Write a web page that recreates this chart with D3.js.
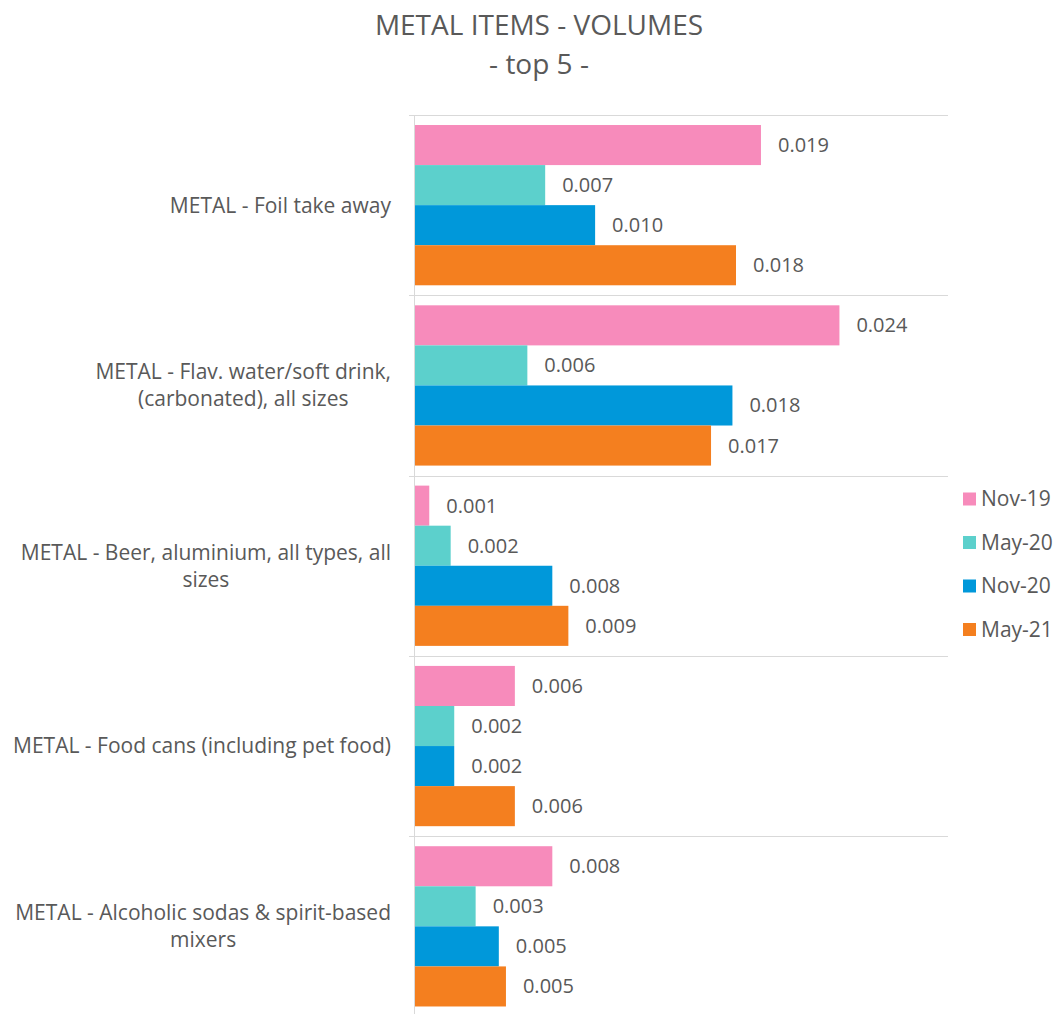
<!DOCTYPE html>
<html>
<head>
<meta charset="utf-8">
<script src="https://cdn.jsdelivr.net/npm/d3@7"></script>
<style>
  html, body { margin: 0; padding: 0; background: #ffffff; }
  svg { display: block; }
</style>
</head>
<body>
<svg id="chart" width="1061" height="1014"></svg>
<script>
const categories = [
  "METAL - Foil take away",
  "METAL - Flav. water/soft drink, (carbonated), all sizes",
  "METAL - Beer, aluminium, all types, all sizes",
  "METAL - Food cans (including pet food)",
  "METAL - Alcoholic sodas & spirit-based mixers"
];
const seriesNames = ["Nov-19", "May-20", "Nov-20", "May-21"];
const nov19 = [0.0194, 0.0238, 0.0008, 0.0056, 0.0077];
const may20 = [0.0073, 0.0063, 0.0020, 0.0022, 0.0034];
const nov20 = [0.0101, 0.0178, 0.0077, 0.0022, 0.0047];
const may21 = [0.0180, 0.0166, 0.0086, 0.0056, 0.0051];
const seriesValues = [nov19, may20, nov20, may21];
const colors = ["#F78BBB", "#5CD0CC", "#0098DA", "#F47F1F"];
const titleLines = ["METAL ITEMS - VOLUMES", "- top 5 -"];

const FONT = "'Open Sans', 'Noto Sans', sans-serif";
const TEXT = "#595959";
const GRID = "#D9D9D9";

const svg = d3.select("#chart");

const plot = { left: 415, right: 950, top: 115, bottom: 1016.5 };

const x = d3.scaleLinear().domain([0, 0.03]).range([plot.left, plot.right]);
const y0 = d3.scaleBand().domain(categories).range([plot.top, plot.bottom]).padding(0);
const y1 = d3.scaleBand().domain(seriesNames).range([0, y0.bandwidth()])
  .paddingInner(0).paddingOuter(0.25);

// Title
svg.append("g").selectAll("text").data(titleLines).join("text")
  .attr("x", 539)
  .attr("y", (d, i) => 35 + i * 39)
  .attr("text-anchor", "middle")
  .attr("font-family", FONT)
  .attr("font-size", 28)
  .attr("fill", TEXT)
  .text(d => d);

// Category separators (gridlines at band boundaries)
const bounds = categories.map(c => y0(c)).concat([plot.bottom]);
svg.append("g").selectAll("line").data(bounds).join("line")
  .attr("x1", plot.left - 6)
  .attr("x2", 948)
  .attr("y1", d => Math.round(d) + 0.5)
  .attr("y2", d => Math.round(d) + 0.5)
  .attr("stroke", GRID)
  .attr("stroke-width", 1);

// Vertical axis line
svg.append("line")
  .attr("x1", plot.left - 0.5).attr("x2", plot.left - 0.5)
  .attr("y1", plot.top).attr("y2", plot.bottom)
  .attr("stroke", GRID).attr("stroke-width", 1);

// Bars
const rows = [];
categories.forEach((c, ci) => {
  seriesNames.forEach((s, si) => {
    rows.push({ cat: c, series: s, value: seriesValues[si][ci], color: colors[si] });
  });
});

const groups = svg.append("g");
groups.selectAll("rect").data(rows).join("rect")
  .attr("x", x(0))
  .attr("y", d => y0(d.cat) + y1(d.series))
  .attr("width", d => x(d.value) - x(0))
  .attr("height", y1.bandwidth())
  .attr("fill", d => d.color);

// Value labels
const fmt = d3.format(".3f");
groups.selectAll("text.val").data(rows).join("text")
  .attr("class", "val")
  .attr("x", d => x(d.value) + 17)
  .attr("y", d => y0(d.cat) + y1(d.series) + y1.bandwidth() / 2)
  .attr("dy", "0.35em")
  .attr("font-family", FONT)
  .attr("font-size", 20)
  .attr("fill", TEXT)
  .text(d => fmt(d.value));

// Category labels, wrapped, block right-aligned, lines centered
const LAB_SIZE = 21;
const labelRight = 391;
const maxW = 388;
const lineH = 27;
const labG = svg.append("g");
categories.forEach(c => {
  const t = labG.append("text")
    .attr("font-family", FONT)
    .attr("font-size", LAB_SIZE)
    .attr("fill", TEXT)
    .attr("text-anchor", "middle");
  const words = c.split(" ");
  const lines = [];
  let cur = [];
  const probe = labG.append("text").attr("font-family", FONT).attr("font-size", LAB_SIZE);
  words.forEach(w => {
    const test = cur.concat([w]).join(" ");
    probe.text(test);
    if (probe.node().getComputedTextLength() > maxW && cur.length) {
      lines.push(cur.join(" "));
      cur = [w];
    } else {
      cur.push(w);
    }
  });
  lines.push(cur.join(" "));
  let widest = 0;
  lines.forEach(l => { probe.text(l); widest = Math.max(widest, probe.node().getComputedTextLength()); });
  probe.remove();
  const cx = labelRight - widest / 2;
  const cy = y0(c) + y0.bandwidth() / 2;
  lines.forEach((l, i) => {
    t.append("tspan")
      .attr("x", cx)
      .attr("y", cy + (i - (lines.length - 1) / 2) * lineH)
      .attr("dy", "0.35em")
      .text(l);
  });
});

// Legend
const leg = svg.append("g");
seriesNames.forEach((s, i) => {
  const ly = 499 + i * 43.5;
  leg.append("rect")
    .attr("x", 963).attr("y", ly - 6.5)
    .attr("width", 13).attr("height", 13)
    .attr("fill", colors[i]);
  leg.append("text")
    .attr("x", 981).attr("y", ly)
    .attr("dy", "0.35em")
    .attr("font-family", FONT)
    .attr("font-size", 21)
    .attr("fill", TEXT)
    .text(s);
});
</script>
</body>
</html>
